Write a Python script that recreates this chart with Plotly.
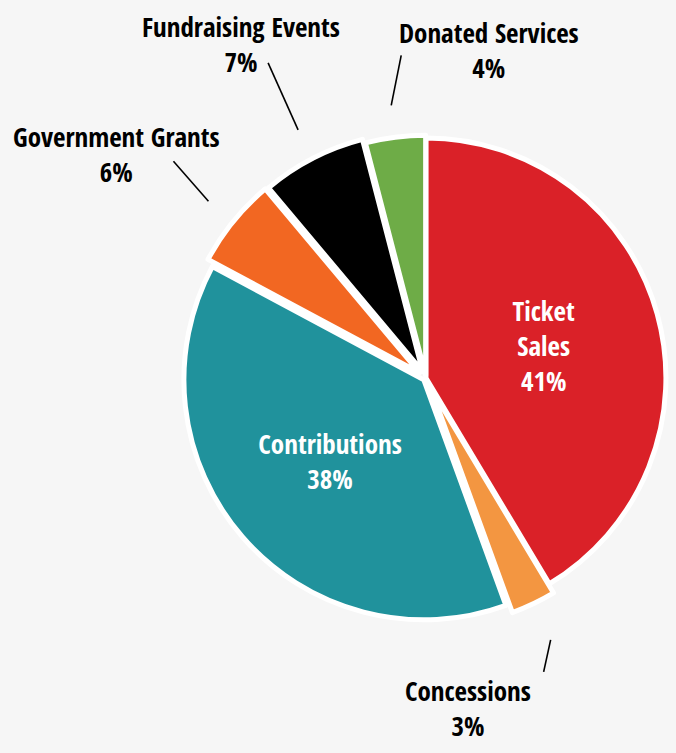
import math
import plotly.graph_objects as go

# ---- data ----
labels = ["Ticket Sales", "Concessions", "Contributions",
          "Government Grants", "Fundraising Events", "Donated Services"]
label_lines = ["Ticket<br>Sales", "Concessions", "Contributions",
               "Government Grants", "Fundraising Events", "Donated Services"]
values = [41, 3, 38, 6, 7, 4]

# ---- style ----
colors = ["#DA2128", "#F39641", "#20929C", "#F26722", "#000000", "#6EAC47"]
pulls = [0.0, 0.042, 0.012, 0.035, 0.03, 0.012]
inside = [True, False, True, False, False, False]
# outside-label leader line: gap from slice edge, end offset from start (px),
# label centre offset from line end (px)
line_gap = {1: 40, 3: 32, 4: 32, 5: 32}
line_end_off = {1: (-7, 32), 3: (-35, -40), 4: (-30, -67), 5: (10, -50)}
label_off = {1: (-76, 36), 3: (-57, -7), 4: (-27, -19), 5: (88, -5)}
FONT = ("Noto Sans ExtraCondensed, Noto Sans Condensed, Open Sans Condensed, "
        "Roboto Condensed, DejaVu Sans Condensed, sans-serif")
FSIZE = 27
FWEIGHT = 500

W, H = 676, 753
CX, CY = 426, 378
half = W - CX
R = half / (1 + max(pulls))

texts = [f"{label_lines[i]}<br>{values[i]}%" if inside[i] else "" for i in range(len(values))]
fig = go.Figure(go.Pie(
    labels=labels, values=values, sort=False, direction="clockwise", rotation=0,
    pull=pulls, text=texts, textinfo="text",
    textposition=["inside" if f else "none" for f in inside],
    insidetextorientation="horizontal",
    insidetextfont=dict(family=FONT, size=FSIZE, color="white", weight=FWEIGHT),
    marker=dict(colors=colors, line=dict(color="white", width=5)),
    domain=dict(x=[(CX - half) / W, 1],
                y=[1 - CY / H - half / H, 1 - CY / H + half / H]),
    showlegend=False, hoverinfo="label+value",
))

def to_paper(x, y):
    return x / W, 1 - y / H

total = sum(values)
cum = 0
shapes, annotations = [], []
for i, v in enumerate(values):
    mid = (cum + v / 2) / total * 2 * math.pi
    cum += v
    if inside[i]:
        continue
    r1 = R * (1 + pulls[i]) + line_gap[i]
    sx, sy = CX + r1 * math.sin(mid), CY - r1 * math.cos(mid)
    ex, ey = sx + line_end_off[i][0], sy + line_end_off[i][1]
    lx, ly = ex + label_off[i][0], ey + label_off[i][1]
    x0, y0 = to_paper(sx, sy)
    x1, y1 = to_paper(ex, ey)
    shapes.append(dict(type="line", xref="paper", yref="paper", x0=x0, y0=y0, x1=x1, y1=y1,
                       line=dict(color="black", width=1.6)))
    ax, ay = to_paper(lx, ly)
    annotations.append(dict(xref="paper", yref="paper", x=ax, y=ay, showarrow=False,
                            text=f"{labels[i]}<br>{v}%", xanchor="center", yanchor="middle",
                            font=dict(family=FONT, size=FSIZE, color="black", weight=FWEIGHT)))

fig.update_layout(
    width=W, height=H, margin=dict(l=0, r=0, t=0, b=0),
    paper_bgcolor="#f6f6f6", plot_bgcolor="#f6f6f6",
    shapes=shapes, annotations=annotations,
)
fig.write_html("out.html", config={"displayModeBar": False},
               post_script="document.body.style.margin='0';document.body.style.overflow='hidden';")
